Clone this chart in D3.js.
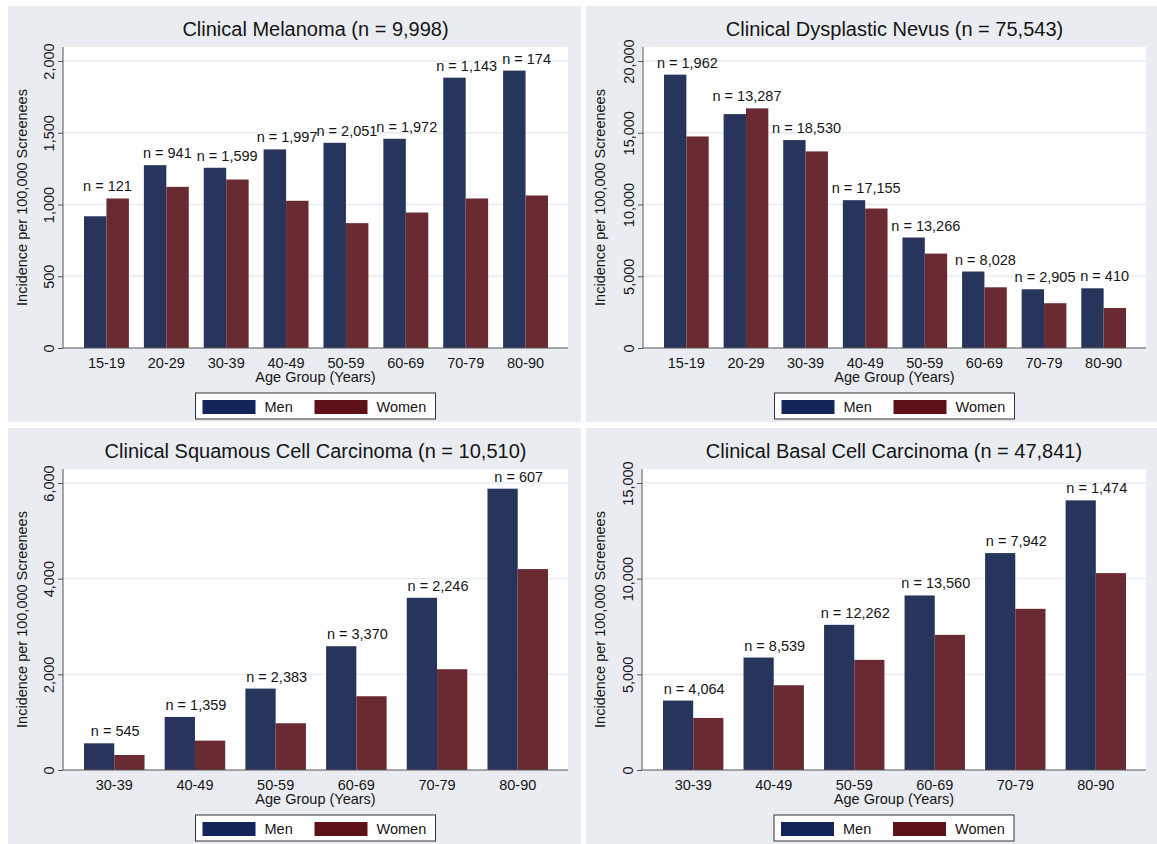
<!DOCTYPE html>
<html>
<head>
<meta charset="utf-8">
<script src="https://cdn.jsdelivr.net/npm/d3@7"></script>
<style>
    body { margin: 0; background: #fff; }
    svg text { font-family: "Liberation Sans", Arial, sans-serif; fill: #151515; }
</style>
</head>
<body>
<div id="chart"></div>
<script>

// Clinical melanoma
var melanomaTotal = 9998;
var melanomaAges = ["15-19", "20-29", "30-39", "40-49", "50-59", "60-69", "70-79", "80-90"];
var melanomaMen = [918, 1274, 1256, 1384, 1430, 1458, 1884, 1933];
var melanomaWomen = [1042, 1123, 1174, 1026, 870, 944, 1042, 1063];
var melanomaCounts = [121, 941, 1599, 1997, 2051, 1972, 1143, 174];
var melanomaTicks = [0, 500, 1000, 1500, 2000];

// Clinical dysplastic nevus
var nevusTotal = 75543;
var nevusAges = ["15-19", "20-29", "30-39", "40-49", "50-59", "60-69", "70-79", "80-90"];
var nevusMen = [19050, 16300, 14490, 10300, 7700, 5330, 4090, 4160];
var nevusWomen = [14740, 16700, 13700, 9720, 6580, 4230, 3120, 2790];
var nevusCounts = [1962, 13287, 18530, 17155, 13266, 8028, 2905, 410];
var nevusTicks = [0, 5000, 10000, 15000, 20000];

// Clinical squamous cell carcinoma
var sccTotal = 10510;
var sccAges = ["30-39", "40-49", "50-59", "60-69", "70-79", "80-90"];
var sccMen = [558, 1109, 1702, 2588, 3600, 5881];
var sccWomen = [314, 614, 977, 1542, 2107, 4200];
var sccCounts = [545, 1359, 2383, 3370, 2246, 607];
var sccTicks = [0, 2000, 4000, 6000];

// Clinical basal cell carcinoma
var bccTotal = 47841;
var bccAges = ["30-39", "40-49", "50-59", "60-69", "70-79", "80-90"];
var bccMen = [3628, 5878, 7587, 9122, 11337, 14093];
var bccWomen = [2721, 4430, 5756, 7064, 8424, 10291];
var bccCounts = [4064, 8539, 12262, 13560, 7942, 1474];
var bccTicks = [0, 5000, 10000, 15000];

var sexes = ["Men", "Women"];


/*
 * BarPanel - one Stata style grouped bar chart
 */

BarPanel = function(_svg, _config) {
    this.svg = _svg;
    this.config = _config;

    this.initVis();
}

BarPanel.prototype.initVis = function() {
    var vis = this;
    var c = vis.config;

    vis.width = c.width;
    vis.height = 416;
    vis.plotLeft = c.plotLeft;
    vis.plotRight = 560;
    vis.plotTop = 41;
    vis.zeroY = 342;

    vis.g = vis.svg.append("g")
        .attr("transform", "translate(" + c.left + "," + c.top + ")");

    // panel background and white plot region
    vis.g.append("rect")
        .attr("width", vis.width)
        .attr("height", vis.height)
        .attr("fill", "#e9edf1");

    vis.g.append("rect")
        .attr("x", vis.plotLeft)
        .attr("y", vis.plotTop)
        .attr("width", vis.plotRight - vis.plotLeft)
        .attr("height", vis.zeroY - vis.plotTop)
        .attr("fill", "#fff");

    vis.y = d3.scaleLinear()
        .domain([0, d3.max(c.ticks)])
        .range([vis.zeroY, 55]);

    vis.x0 = d3.scaleBand()
        .domain(c.ages)
        .range([vis.plotLeft + 21, vis.plotRight - 20])
        .paddingInner(0.25);

    vis.x1 = d3.scaleBand()
        .domain(sexes)
        .range([0, vis.x0.bandwidth()]);

    vis.color = d3.scaleOrdinal()
        .domain(sexes)
        .range(["#27355c", "#6a2a31"]);

    vis.updateVis();
}

BarPanel.prototype.updateVis = function() {
    var vis = this;
    var c = vis.config;
    var fmt = d3.format(",");

    // gridlines
    vis.g.selectAll(".grid")
        .data(c.ticks.filter(function(d) { return d > 0; }))
        .enter().append("line")
        .attr("class", "grid")
        .attr("x1", vis.plotLeft)
        .attr("x2", vis.plotRight)
        .attr("y1", function(d) { return vis.y(d); })
        .attr("y2", function(d) { return vis.y(d); })
        .attr("stroke", "#e6ecef")
        .attr("stroke-width", 1.3);

    var rows = c.ages.map(function(a, i) {
        return {age: a, Men: c.men[i], Women: c.women[i], n: c.counts[i]};
    });

    var groups = vis.g.selectAll(".group")
        .data(rows)
        .enter().append("g")
        .attr("class", "group")
        .attr("transform", function(d) { return "translate(" + vis.x0(d.age) + ",0)"; });

    groups.selectAll("rect")
        .data(function(d) { return sexes.map(function(s) { return {key: s, value: d[s]}; }); })
        .enter().append("rect")
        .attr("x", function(d) { return vis.x1(d.key); })
        .attr("y", function(d) { return vis.y(d.value); })
        .attr("width", vis.x1.bandwidth())
        .attr("height", function(d) { return vis.zeroY - vis.y(d.value); })
        .attr("fill", function(d) { return vis.color(d.key); });

    groups.append("text")
        .attr("x", vis.x0.bandwidth() / 2 + 1)
        .attr("y", function(d) { return vis.y(Math.max(d.Men, d.Women)) - 7; })
        .attr("text-anchor", "middle")
        .attr("font-size", "14.5px")
        .text(function(d) { return "n = " + fmt(d.n); });

    // y axis
    var yAxis = vis.g.append("g")
        .attr("transform", "translate(" + vis.plotLeft + ",0)")
        .call(d3.axisLeft(vis.y).tickValues(c.ticks).tickSize(5).tickFormat(fmt));
    yAxis.select(".domain").remove();
    yAxis.selectAll(".tick line").attr("stroke", "#555");
    yAxis.selectAll(".tick text")
        .attr("x", 0)
        .attr("y", -9)
        .attr("dy", 0)
        .attr("text-anchor", "middle")
        .attr("transform", "rotate(-90)")
        .attr("font-size", "14.5px")
        .attr("font-family", null)
        .attr("fill", "#151515");

    vis.g.append("line")
        .attr("x1", vis.plotLeft).attr("x2", vis.plotLeft)
        .attr("y1", vis.plotTop).attr("y2", vis.zeroY)
        .attr("stroke", "#555");

    // x axis
    var xAxis = vis.g.append("g")
        .attr("transform", "translate(0," + vis.zeroY + ")")
        .call(d3.axisBottom(vis.x0).tickSize(0).tickPadding(10));
    xAxis.select(".domain").remove();
    xAxis.selectAll(".tick text")
        .attr("font-size", "14.5px")
        .attr("font-family", null)
        .attr("fill", "#151515");

    vis.g.append("line")
        .attr("x1", vis.plotLeft).attr("x2", vis.plotRight)
        .attr("y1", vis.zeroY).attr("y2", vis.zeroY)
        .attr("stroke", "#555");

    var midX = (vis.plotLeft + vis.plotRight) / 2;

    vis.g.append("text")
        .attr("x", midX)
        .attr("y", 376)
        .attr("text-anchor", "middle")
        .attr("font-size", "14.5px")
        .text("Age Group (Years)");

    vis.g.append("text")
        .attr("transform", "translate(19," + ((vis.plotTop + vis.zeroY) / 2) + ") rotate(-90)")
        .attr("text-anchor", "middle")
        .attr("font-size", "14.5px")
        .text("Incidence per 100,000 Screenees");

    vis.g.append("text")
        .attr("x", midX)
        .attr("y", 30)
        .attr("text-anchor", "middle")
        .attr("font-size", "20px")
        .text(c.title + " (n = " + fmt(c.total) + ")");

    // legend
    var legend = vis.g.append("g")
        .attr("transform", "translate(" + (midX - 120) + ",387)");

    legend.append("rect")
        .attr("width", 240)
        .attr("height", 26)
        .attr("fill", "#fff")
        .attr("stroke", "#333");

    var items = legend.selectAll(".item")
        .data(sexes)
        .enter().append("g")
        .attr("class", "item")
        .attr("transform", function(d, i) { return "translate(" + (7 + i * 112) + ",0)"; });

    items.append("rect")
        .attr("y", 7)
        .attr("width", 53)
        .attr("height", 14)
        .attr("fill", function(d, i) { return ["#13245a", "#5e1218"][i]; });

    items.append("text")
        .attr("x", 62)
        .attr("y", 19)
        .attr("font-size", "14.5px")
        .text(function(d) { return d; });
}


var svg = d3.select("#chart").append("svg")
    .attr("width", 1157)
    .attr("height", 844);

var panels = [
    {title: "Clinical Melanoma", total: melanomaTotal, ages: melanomaAges, men: melanomaMen,
        women: melanomaWomen, counts: melanomaCounts, ticks: melanomaTicks,
        left: 8, top: 6, width: 573, plotLeft: 55},
    {title: "Clinical Dysplastic Nevus", total: nevusTotal, ages: nevusAges, men: nevusMen,
        women: nevusWomen, counts: nevusCounts, ticks: nevusTicks,
        left: 586, top: 6, width: 571, plotLeft: 57},
    {title: "Clinical Squamous Cell Carcinoma", total: sccTotal, ages: sccAges, men: sccMen,
        women: sccWomen, counts: sccCounts, ticks: sccTicks,
        left: 8, top: 428, width: 573, plotLeft: 55},
    {title: "Clinical Basal Cell Carcinoma", total: bccTotal, ages: bccAges, men: bccMen,
        women: bccWomen, counts: bccCounts, ticks: bccTicks,
        left: 586, top: 428, width: 571, plotLeft: 56}
];

panels.forEach(function(p) {
    new BarPanel(svg, p);
});

</script>
</body>
</html>
